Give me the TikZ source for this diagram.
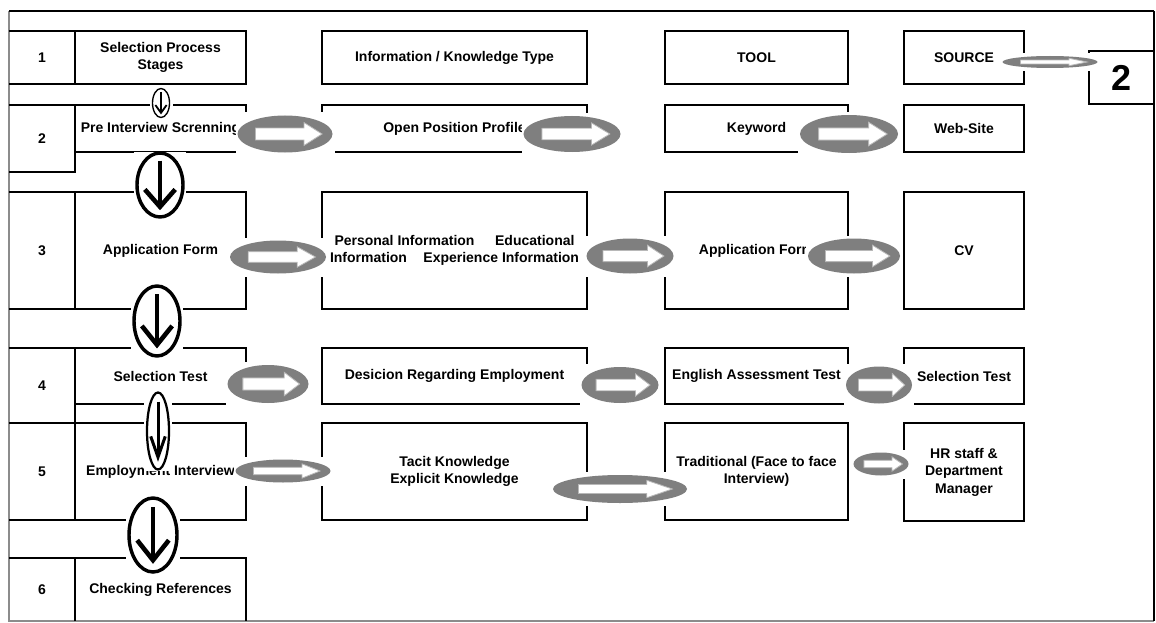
\documentclass[tikz,border=0pt]{standalone}
\usepackage{fontspec}
\setmainfont{Liberation Sans}
\usetikzlibrary{shapes.geometric,calc}
\definecolor{ellgray}{HTML}{7F7F7F}
\definecolor{framegray}{HTML}{8C8C8C}
\definecolor{arrline}{HTML}{B8B8B8}
% box from corners: style, name, x1, y1, x2, y2, text
\newcommand\bx[7][cell]{%
  \node[#1,minimum width={#5-#3},minimum height={#6-#4}] (#2) at ({(#3+#5)/2},{(#4+#6)/2}) {#7};}
% gray block-arrow ellipse: name, cx, cy, w, h
\newcommand\garr[5]{%
  \fill[white] ({#2-#4/2-2},{#3-#5/2-3}) rectangle ({#2+#4/2+2},{#3+#5/2+3});
  \node[gell,minimum width=#4,minimum height=#5] (#1) at (#2,#3) {};
  \draw[blockarr] ($(#1.center)+({-0.31*#4},{-0.16*#5})$) -- ++({0.51*#4},0) -- ++(0,{-0.15*#5})
     -- ($(#1.center)+({0.39*#4},0)$) -- ($(#1.center)+({0.2*#4},{0.31*#5})$) -- ++(0,{-0.15*#5})
     -- ($(#1.center)+({-0.31*#4},{0.16*#5})$) -- cycle;}
% white ellipse with black down arrow: name, cx, cy, w, h, line width
\newcommand\darr[6]{%
  \fill[white] ({#2-#4/2-3},{#3-#5/2-1}) rectangle ({#2+#4/2+3},{#3+#5/2+1});
  \node[dell,line width={0.75*#6},minimum width=#4,minimum height=#5] (#1) at (#2,#3) {};
  \draw[line width=#6] ($(#1.center)+(0,{-0.38*#5})$) -- ($(#1.center)+(0,{0.3*#5})$);
  \draw[line width=#6,line join=miter] ($(#1.center)+({-0.33*#4},{0.07*#5})$) -- ($(#1.center)+(0,{0.34*#5})$)
     -- ($(#1.center)+({0.33*#4},{0.07*#5})$);}
\begin{document}
\begin{tikzpicture}[x=1pt,y=-1pt,
  txt/.style={inner sep=0pt,font=\bfseries\fontsize{14}{17.5}\selectfont,align=center},
  cell/.style={txt,draw,line width=2pt},
  plain/.style={txt},
  gell/.style={ellipse,fill=ellgray,draw=none,inner sep=0pt},
  dell/.style={ellipse,fill=white,draw=black,inner sep=0pt},
  blockarr/.style={fill=white,draw=arrline,line width=0.8pt,line join=miter},
  cl/.style={line width=2pt}]
\useasboundingbox (0,0) rectangle (1156,623);
% frame
\draw[framegray,line width=1.5pt] (9,11) -- (9,621) -- (1154,621);
\draw[line width=2pt] (9,11) -- (1154,11);
\draw[line width=1.5pt] (1154,11) -- (1154,621);

% stage column: number cells (left edge is the frame)
\bx[plain]{n1}{9}{31}{75}{84}{1}
\bx[plain]{n2}{9}{105}{75}{172}{2}
\bx[plain]{n3}{9}{192}{75}{309}{3}
\bx[plain]{n4}{9}{348}{75}{423}{4}
\bx[plain]{n5}{9}{423}{75}{520}{5}
\bx[plain]{n6}{9}{558}{75}{621}{6}
\foreach \n in {n1,n2,n3,n4,n5}
  \draw[cl] (\n.north west) -- (\n.north east) -- (\n.south east) -- (\n.south west);
\draw[cl] (n6.north west) -- (n6.north east) -- (n6.south east);

% stage names
\bx{s1}{75}{31}{246}{84}{Selection Process\\Stages}
\bx{s2}{75}{105}{246}{152}{Pre Interview Screnning}
\bx{s3}{75}{192}{246}{309}{Application Form}
\bx{s4}{75}{348}{246}{404}{Selection Test}
\bx{s5}{75}{423}{246}{520}{Employment Interview}
\bx[plain]{s6}{75}{558}{246}{621}{Checking References}
\draw[cl] (s6.south west) -- (s6.north west) -- (s6.north east) -- (s6.south east);

% knowledge column
\bx{k1}{322}{31}{587}{84}{Information / Knowledge Type}
\bx{k2}{322}{105}{587}{152}{Open Position Profile}
\bx{k3}{322}{192}{587}{309}{\hbox to 240pt{Personal Information\hfill Educational}\\[-1pt]\hbox to 249pt{Information\hfill Experience Information}}
\bx{k4}{322}{348}{587}{404}{Desicion Regarding Employment}
\bx{k5}{322}{423}{587}{520}{Tacit Knowledge\\Explicit Knowledge}

% tool column
\bx{t1}{665}{31}{848}{84}{TOOL}
\bx{t2}{665}{105}{848}{152}{Keyword}
\bx{t3}{665}{192}{848}{309}{Application Form}
\bx{t4}{665}{348}{848}{404}{English Assessment Test}
\bx{t5}{665}{423}{848}{520}{Traditional (Face to face\\Interview)}

% source column
\bx{r1}{904}{31}{1024}{84}{SOURCE}
\bx{r2}{904}{105}{1024}{152}{Web-Site}
\bx{r3}{904}{192}{1024}{309}{CV}
\bx{r4}{904}{348}{1024}{404}{Selection Test}
\bx{r5}{904}{423}{1024}{521}{HR staff \&\\Department\\Manager}

% page number box
\node[draw,line width=2pt,inner sep=0pt,minimum width=65,minimum height=53,
      font=\bfseries\fontsize{36}{36}\selectfont] (pg) at (1121.5,77.5) {2};

% gray block arrows
\garr{g1}{1050}{62}{95}{12}
\garr{g2}{285}{134}{95}{37}
\garr{g3}{572}{134}{97}{36}
\garr{g4}{849}{134}{98}{38}
\garr{g5}{278}{257}{96}{33}
\garr{g6}{630}{256}{87}{35}
\garr{g7}{854}{256}{92}{35}
\garr{g8}{268}{384}{81}{38}
\garr{g9}{620}{385}{77}{36}
\garr{g10}{879}{385}{66}{37}
\garr{g11}{283}{471}{95}{23}
\garr{g12}{620}{489}{134}{28}
\garr{g13}{881}{464}{55}{23}

% down arrows
\darr{d1}{161}{103}{17}{29}{1.8}
\darr{d2}{160}{185}{46}{64}{4.6}
\darr{d3}{157}{321}{46}{70}{4.6}
\darr{d4}{158}{431}{22}{77}{3}
\darr{d5}{153}{535}{48}{74}{4.6}
\end{tikzpicture}
\end{document}
